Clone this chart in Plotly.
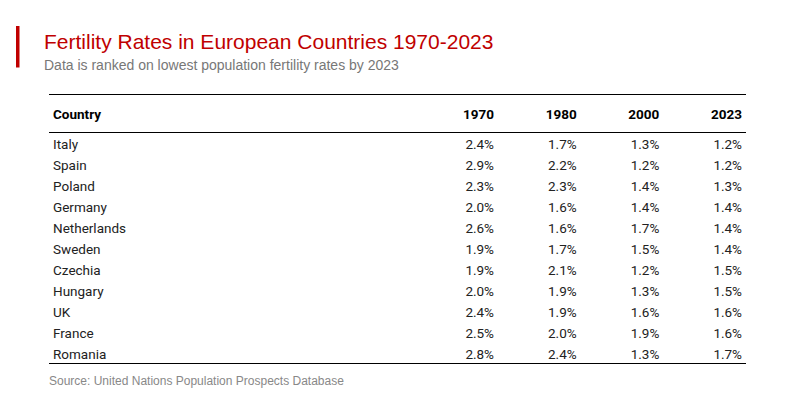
import plotly.graph_objects as go

countries = ["Italy", "Spain", "Poland", "Germany", "Netherlands", "Sweden",
             "Czechia", "Hungary", "UK", "France", "Romania"]
years = ["1970", "1980", "2000", "2023"]
rate_1970 = [2.4, 2.9, 2.3, 2.0, 2.6, 1.9, 1.9, 2.0, 2.4, 2.5, 2.8]
rate_1980 = [1.7, 2.2, 2.3, 1.6, 1.6, 1.7, 2.1, 1.9, 1.9, 2.0, 2.4]
rate_2000 = [1.3, 1.2, 1.4, 1.4, 1.7, 1.5, 1.2, 1.3, 1.6, 1.9, 1.3]
rate_2023 = [1.2, 1.2, 1.3, 1.4, 1.4, 1.4, 1.5, 1.5, 1.6, 1.6, 1.7]
series = [rate_1970, rate_1980, rate_2000, rate_2023]

title = "Fertility Rates in European Countries 1970-2023"
subtitle = "Data is ranked on lowest population fertility rates by 2023"
source = "Source: United Nations Population Prospects Database"

W, H = 800, 400
OFF = 8  # page body margin offset
ML, MR, MT, MB = 49 - OFF, W - (746 - OFF), 95 - OFF, H - (364 - OFF)
row_px = 21.0
col_px = 82.67
FONT = "Roboto, 'Liberation Sans', Arial, sans-serif"
TITLE_FONT = "'Liberation Sans', Arial, sans-serif"
TXT = "#222222"
FS = 13.5

pw, ph = W - ML - MR, H - MT - MB

def px(xp):
    return (xp - OFF - ML) / pw

def py(yp):
    return (H - MB - (yp - OFF)) / ph

# axis geometry (data units: rows on y, numeric columns on x)
text_shift = 2 / row_px
y_top = -(144 - 95) / row_px
y_bot = y_top + ph / row_px
y_head = y_top + (114 - 95) / row_px
x_left = 1 - (494 - 49) / col_px
x_right = x_left + pw / col_px
x_country = x_left + 4 / col_px

rows = [i + text_shift for i in range(len(countries))]
y_head_txt = y_head + text_shift

fig = go.Figure()

fig.add_trace(go.Scatter(
    x=[x_country] * len(countries), y=rows, mode="text",
    text=countries, textposition="middle right",
    textfont=dict(family=FONT, size=FS, color=TXT),
    hoverinfo="skip", showlegend=False))
fig.add_trace(go.Scatter(
    x=[x_country], y=[y_head_txt], mode="text",
    text=["<b>Country</b>"], textposition="middle right",
    textfont=dict(family=FONT, size=FS, color="#000000"),
    hoverinfo="skip", showlegend=False))

for k, (yr, vals) in enumerate(zip(years, series), start=1):
    fig.add_trace(go.Scatter(
        x=[k] * len(vals), y=rows, mode="text",
        text=[f"{v:.1f}%" for v in vals], textposition="middle left",
        textfont=dict(family=FONT, size=FS, color=TXT),
        hoverinfo="skip", showlegend=False))
    fig.add_trace(go.Scatter(
        x=[k], y=[y_head_txt], mode="text",
        text=[f"<b>{yr}</b>"], textposition="middle left",
        textfont=dict(family=FONT, size=FS, color="#000000"),
        hoverinfo="skip", showlegend=False))

# horizontal rules (pixel-aligned)
for yp in (94.5, 132.5, 363.5):
    fig.add_shape(type="line", xref="paper", x0=0, x1=1, yref="paper",
                  y0=py(yp), y1=py(yp), line=dict(color="#000000", width=1))

fig.add_shape(type="rect", xref="paper", yref="paper",
              x0=px(16), x1=px(19.5), y0=py(67.5), y1=py(26),
              fillcolor="#c00000", line=dict(width=0))

fig.add_annotation(text=title, xref="paper", yref="paper", x=px(42), y=py(41),
                   xanchor="left", yanchor="middle", showarrow=False,
                   font=dict(family=TITLE_FONT, size=21, color="#c00000"))
fig.add_annotation(text=subtitle, xref="paper", yref="paper", x=px(42), y=py(65),
                   xanchor="left", yanchor="middle", showarrow=False,
                   font=dict(family=TITLE_FONT, size=14, color="#777777"))
fig.add_annotation(text=source, xref="paper", yref="paper", x=px(47), y=py(381),
                   xanchor="left", yanchor="middle", showarrow=False,
                   font=dict(family=TITLE_FONT, size=12, color="#888888"))

fig.update_layout(
    width=W, height=H, margin=dict(l=ML, r=MR, t=MT, b=MB),
    paper_bgcolor="white", plot_bgcolor="white",
    xaxis=dict(range=[x_left, x_right], visible=False, fixedrange=True),
    yaxis=dict(range=[y_bot, y_top], visible=False, fixedrange=True),
)

fig.write_html("out.html")
